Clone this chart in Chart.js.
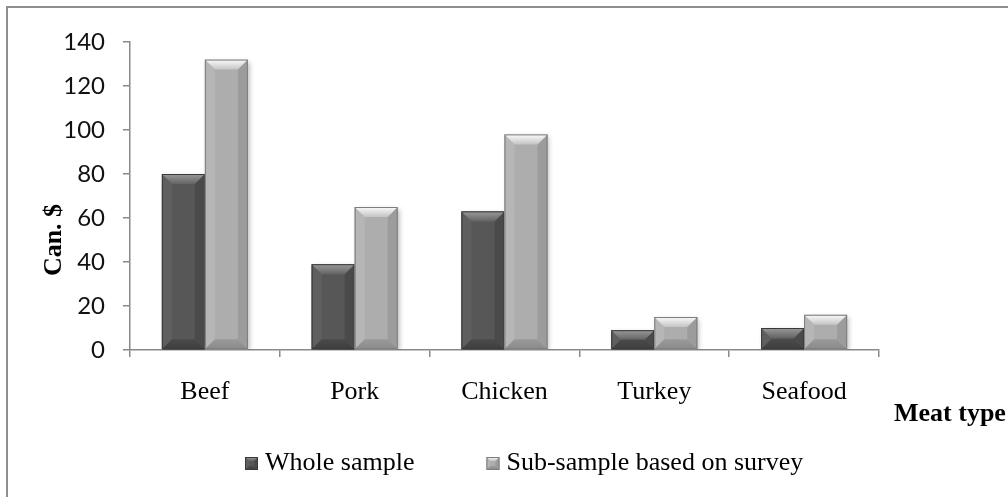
<!DOCTYPE html>
<html>
<head>
<meta charset="utf-8">
<title>Meat expenditure</title>
<script src="https://cdn.jsdelivr.net/npm/chart.js@4.4.1/dist/chart.umd.min.js"></script>
<style>
  html, body { margin: 0; padding: 0; background: #ffffff; overflow: hidden; }
  #wrap { position: relative; width: 1008px; height: 497px; }
  canvas { display: block; }
</style>
</head>
<body>
<div id="wrap"><canvas id="chart" width="1008" height="497"></canvas></div>
<script>
// Spending per meat type, Canadian dollars
const categories = ['Beef', 'Pork', 'Chicken', 'Turkey', 'Seafood'];
const wholeSample = [80, 39, 63, 9, 10];
const subSample = [132, 65, 98, 15, 16];
const seriesNames = ['Whole sample', 'Sub-sample based on survey'];
const yTicks = [0, 20, 40, 60, 80, 100, 120, 140];
const yTitle = 'Can. $';
const xTitle = 'Meat type';

const SERIF = '"Liberation Serif", "Times New Roman", serif';
const SANS = 'Lato, "Open Sans", sans-serif';

// Bevel shading for each series: flat face plus lit top / dark bottom edges
const shades = [
  { face: '#575757', top: ['#9a9a9a', '#646464'], bottom: ['#4a4a4a', '#3e3e3e'],
    left: '#5f5f5f', right: '#4a4a4a', edge: '#3a3a3a' },
  { face: '#adadad', top: ['#fbfbfb', '#c4c4c4'], bottom: ['#9a9a9a', '#8a8a8a'],
    left: '#b6b6b6', right: '#9c9c9c', edge: '#7e7e7e' }
];

function poly(ctx, pts, fill) {
  ctx.beginPath();
  ctx.moveTo(pts[0][0], pts[0][1]);
  for (let i = 1; i < pts.length; i++) ctx.lineTo(pts[i][0], pts[i][1]);
  ctx.closePath();
  ctx.fillStyle = fill;
  ctx.fill();
}

function drawBevel(ctx, l, t, r, btm, depth, s) {
  const h = btm - t, w = r - l;
  const b = Math.max(0, Math.min(depth, h / 2, w / 2));
  ctx.save();
  ctx.fillStyle = s.face;
  ctx.fillRect(l, t, w, h);
  if (b > 0) {
    poly(ctx, [[l, t], [l + b, t + b], [l + b, btm - b], [l, btm]], s.left);
    poly(ctx, [[r, t], [r - b, t + b], [r - b, btm - b], [r, btm]], s.right);
    const gt = ctx.createLinearGradient(0, t, 0, t + b);
    gt.addColorStop(0, s.top[0]);
    gt.addColorStop(1, s.top[1]);
    poly(ctx, [[l, t], [r, t], [r - b, t + b], [l + b, t + b]], gt);
    const gb = ctx.createLinearGradient(0, btm - b, 0, btm);
    gb.addColorStop(0, s.bottom[0]);
    gb.addColorStop(1, s.bottom[1]);
    poly(ctx, [[l, btm], [r, btm], [r - b, btm - b], [l + b, btm - b]], gb);
  }
  ctx.strokeStyle = s.edge;
  ctx.lineWidth = 1;
  ctx.strokeRect(l + 0.5, t + 0.5, w - 1, h - 1);
  ctx.restore();
}

// Outer frame of the figure
const framePlugin = {
  id: 'frame',
  beforeDraw(chart) {
    const ctx = chart.ctx;
    ctx.save();
    ctx.strokeStyle = '#8e8e8e';
    ctx.lineWidth = 2;
    ctx.strokeRect(7, 7, 1200, 700);
    ctx.restore();
  }
};

// Soft drop shadow under the bars, then bevel overlay on each bar element
const bevelPlugin = {
  id: 'bevel',
  beforeDatasetsDraw(chart) {
    const ctx = chart.ctx;
    ctx.save();
    ctx.shadowColor = 'rgba(0,0,0,0.28)';
    ctx.shadowBlur = 5;
    ctx.shadowOffsetX = 2;
    ctx.shadowOffsetY = 2;
  },
  afterDatasetsDraw(chart) {
    const ctx = chart.ctx;
    ctx.restore();
    chart.getSortedVisibleDatasetMetas().forEach(meta => {
      const s = shades[meta.index];
      meta.data.forEach(bar => {
        const p = bar.getProps(['x', 'y', 'base', 'width'], true);
        const l = p.x - p.width / 2, r = p.x + p.width / 2;
        const t = Math.min(p.y, p.base), btm = Math.max(p.y, p.base);
        drawBevel(ctx, l, t, r, btm, 10, s);
      });
    });
  }
};

// Axis titles and the legend row
const labelsPlugin = {
  id: 'labels',
  afterDraw(chart) {
    const ctx = chart.ctx;
    const area = chart.chartArea;
    ctx.save();
    ctx.fillStyle = '#000';
    ctx.font = 'bold 26px ' + SERIF;

    // vertical title on the value axis
    ctx.save();
    ctx.translate(54, 240);
    ctx.rotate(-Math.PI / 2);
    ctx.textAlign = 'center';
    ctx.textBaseline = 'middle';
    ctx.fillText(yTitle, 0, 0);
    ctx.restore();

    // category axis title, past the right end of the axis
    ctx.textAlign = 'left';
    ctx.textBaseline = 'alphabetic';
    ctx.fillText(xTitle, area.right + 15, 421);

    // legend
    ctx.font = '26px ' + SERIF;
    let x = 245;
    const boxY = 457, box = 13, baseY = 470;
    chart.data.datasets.forEach((ds, i) => {
      drawBevel(ctx, x, boxY, x + box, boxY + box, 4, shades[i]);
      ctx.fillStyle = '#000';
      const tx = x + box + 7;
      ctx.fillText(ds.label, tx, baseY);
      x = tx + ctx.measureText(ds.label).width + 72;
    });
    ctx.restore();
  }
};

const axisGrey = '#8a8a8a';

new Chart(document.getElementById('chart'), {
  type: 'bar',
  data: {
    labels: categories,
    datasets: [
      { label: seriesNames[0], data: wholeSample, backgroundColor: shades[0].face, borderWidth: 0 },
      { label: seriesNames[1], data: subSample, backgroundColor: shades[1].face, borderWidth: 0 }
    ]
  },
  options: {
    responsive: false,
    animation: false,
    devicePixelRatio: 1,
    layout: { padding: { left: 0, top: 42, right: 129, bottom: 0 } },
    datasets: { bar: { categoryPercentage: 0.574, barPercentage: 1.0 } },
    plugins: {
      legend: { display: false },
      tooltip: { enabled: false },
      title: { display: false }
    },
    scales: {
      x: {
        grid: { display: true, drawOnChartArea: false, drawTicks: true, tickLength: 7,
                color: axisGrey, lineWidth: 1.5, offset: true },
        border: { display: true, color: axisGrey, width: 1.5 },
        ticks: { font: { family: SERIF, size: 26 }, color: '#000', padding: 20, maxRotation: 0 },
        afterFit(scale) { scale.height = 147; }
      },
      y: {
        min: 0,
        max: 140,
        grid: { display: true, drawOnChartArea: false, drawTicks: true, tickLength: 7,
                color: axisGrey, lineWidth: 1.5 },
        border: { display: true, color: axisGrey, width: 1.5 },
        ticks: { font: { family: SANS, size: 24 }, color: '#111', padding: 18 },
        afterBuildTicks(scale) { scale.ticks = yTicks.map(v => ({ value: v })); },
        afterFit(scale) { scale.width = 130; }
      }
    }
  },
  plugins: [framePlugin, bevelPlugin, labelsPlugin]
});
</script>
</body>
</html>
